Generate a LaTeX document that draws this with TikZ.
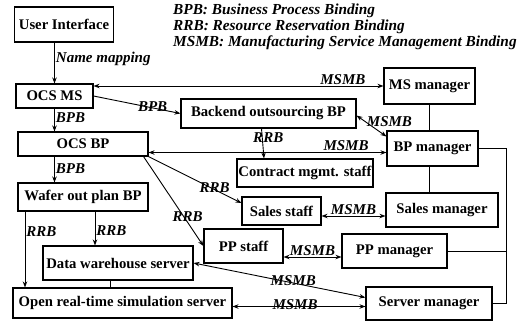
\documentclass[tikz,border=0pt]{standalone}
\usepackage{fontspec}
\setmainfont{Liberation Serif}
\usepackage{tikz}
\usetikzlibrary{arrows.meta, positioning, calc}
\tikzset{
	blk/.style ={rectangle, draw=black, line width=1.1pt, inner sep=1pt, align=center, font=\bfseries\fontsize{14.7}{16}\selectfont},
	sig/.style ={{Stealth[length=6pt,width=4.5pt]}-{Stealth[length=6pt,width=4.5pt]}, line width=0.9pt},
	fwd/.style ={-{Stealth[length=6pt,width=4.5pt]}, line width=0.9pt},
	tie/.style ={line width=0.9pt},
	lbl/.style ={font=\bfseries\itshape\fontsize{15}{15.5}\selectfont, inner sep=1pt},
}
\begin{document}
\begin{tikzpicture}[x=1pt, y=-1pt]
	\useasboundingbox (0,0) rectangle (522,325);
	% legend
	\node[lbl, anchor=north west, align=left, font=\bfseries\itshape\fontsize{15.3}{16}\selectfont] (key) at (172,2.5) {BPB: Business Process Binding\\RRB: Resource Reservation Binding\\MSMB: Manufacturing Service Management Binding};
	% left column
	\node[blk, minimum width=99pt, minimum height=35pt] (ui) at (64,24.5) {User Interface};
	\node[blk, minimum width=77pt, minimum height=24pt] (ocsms) at (54.5,96) {OCS MS};
	\node[blk, minimum width=130pt, minimum height=24pt] (ocsbp) at (83,144) {OCS BP};
	\node[blk, minimum width=130pt, minimum height=28pt] (wafer) at (83,197) {Wafer out plan BP};
	\node[blk, minimum width=150pt, minimum height=34pt] (dw) at (118,263) {Data warehouse server};
	\node[blk, minimum width=219pt, minimum height=30pt] (open) at (122.5,303) {Open real-time simulation server};
	% middle
	\node[blk, minimum width=175pt, minimum height=29pt] (backend) at (268.5,113.5) {Backend outsourcing BP};
	\node[blk, minimum width=136pt, minimum height=28pt] (contract) at (305,173) {Contract mgmt. staff};
	\node[blk, minimum width=79pt, minimum height=28pt] (sstaff) at (281.5,211) {Sales staff};
	\node[blk, minimum width=79pt, minimum height=34pt] (pstaff) at (243.5,246) {PP staff};
	% managers
	\node[blk, minimum width=91pt, minimum height=36pt] (msman) at (429.5,86) {MS manager};
	\node[blk, minimum width=91pt, minimum height=35pt] (bpman) at (432.5,148.5) {BP manager};
	\node[blk, minimum width=112pt, minimum height=34pt] (sman) at (442,210) {Sales manager};
	\node[blk, minimum width=105pt, minimum height=34pt] (pman) at (394.5,251) {PP manager};
	\node[blk, minimum width=126pt, minimum height=33pt] (srvman) at (429,303.5) {Server manager};
	\coordinate (rail) at (506,0);

	\draw[fwd] (ui.south -| ocsms.north) -- (ocsms.north) node[lbl, right, pos=0.4] {Name mapping};
	\draw[sig] (msman.west) -- (msman.west -| ocsms.east) node[lbl, above, pos=0.14] {MSMB};
	\draw[fwd] (ocsms.east) -- (backend.west) node[lbl, pos=0.68, yshift=1pt] {BPB};
	\draw[fwd] (ocsms.south) -- (ocsbp.north -| ocsms.south) node[lbl, right, pos=0.4] {BPB};
	\draw[fwd] (ocsbp.south -| ocsms.south) -- (wafer.north -| ocsms.south) node[lbl, right, pos=0.45] {BPB};
	\draw[sig] ([yshift=-4pt]bpman.west) -- ([yshift=-4pt]bpman.west -| ocsbp.east) node[lbl, above, pos=0.17] {MSMB};
	\draw[sig] ([yshift=-2pt]backend.east) -- ([yshift=12pt]bpman.west) node[lbl, anchor=west, pos=0.3] {MSMB};
	\draw[fwd] ([xshift=-7pt]backend.south) -- ([xshift=-41pt]contract.north) node[lbl, pos=0.3, xshift=6pt] {RRB};
	\draw[fwd] (ocsbp.south east) -- ([yshift=8pt]sstaff.west) node[lbl, pos=0.71, yshift=2pt] {RRB};
	\draw[fwd] ([xshift=-5pt]ocsbp.south east) -- (pstaff.west) node[lbl, pos=0.67, xshift=4pt] {RRB};
	\draw[sig] ([yshift=-6pt]sman.west) -- ([yshift=-6pt]sman.west -| sstaff.east) node[lbl, above, pos=0.5] {MSMB};
	\draw[sig] ([yshift=-6pt]pman.west) -- ([yshift=-6pt]pman.west -| pstaff.east) node[lbl, above, pos=0.5] {MSMB};
	\draw[sig] (dw.east) -- ([yshift=6pt]srvman.west) node[lbl, pos=0.58, yshift=2pt] {MSMB};
	\draw[sig] ([yshift=-3pt]srvman.west) -- ([yshift=-3pt]srvman.west -| open.east) node[lbl, pos=0.53, yshift=2pt] {MSMB};
	\draw[fwd] ([xshift=12pt]wafer.south) -- ([xshift=12pt]wafer.south |- dw.north) node[lbl, right, pos=0.55] {RRB};
	\draw[fwd] ([xshift=-58pt]wafer.south) -- ([xshift=-58pt]wafer.south |- open.north) node[lbl, right, pos=0.26] {RRB};
	\draw[tie] ([xshift=-8pt]dw.south) -- ([xshift=-8pt]dw.south |- open.north);
	% manager links
	\draw[tie] (msman.south) -- (msman.south |- bpman.north);
	\draw[tie] (bpman.south -| msman.south) -- (sman.north -| msman.south);
	\draw[tie] (bpman.east) -- (bpman.east -| rail) |- (srvman.east);
	\draw[tie] (pman.east) -- (pman.east -| rail);
\end{tikzpicture}
\end{document}
